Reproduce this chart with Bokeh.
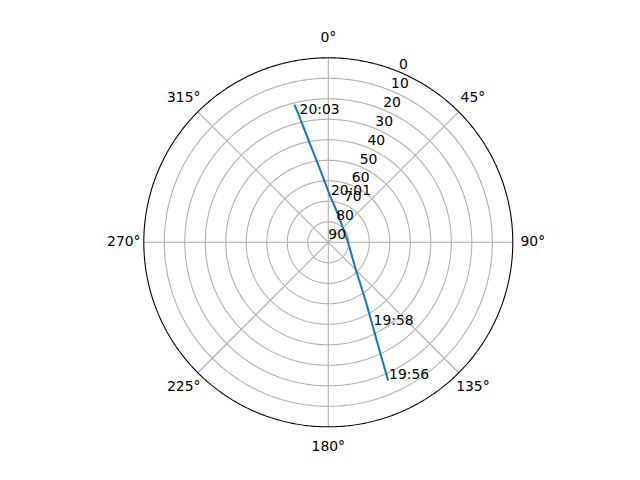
import numpy as np
from bokeh.plotting import figure
from bokeh.models import Range1d, ColumnDataSource
from bokeh.embed import file_html
from bokeh.resources import INLINE
from bokeh.core.properties import value

# ---- data (azimuth in degrees clockwise from north, elevation in degrees) ----
pass_az = [156.6, 154.9, 152.0, 147.4, 133.9, 89.7, 20.8, 2.1, 353.8, 349.3, 346.9, 346.2]
pass_el = [16.6, 30.1, 44.0, 56.3, 71.6, 80.4, 76.0, 67.2, 54.8, 40.4, 26.0, 20.9]

label_times = ["19:56", "19:58", "20:01", "20:03"]
label_az = [156.6, 152.0, 2.1, 346.9]
label_el = [16.6, 44.0, 67.2, 26.0]

elev_ticks = [0, 10, 20, 30, 40, 50, 60, 70, 80, 90]
elev_labels = ["0", "10", "20", "30", "40", "50", "60", "70", "80", "90"]
az_ticks = [0, 45, 90, 135, 180, 225, 270, 315]
az_labels = ["0°", "45°", "90°", "135°", "180°", "225°", "270°", "315°"]

FONT = value("DejaVu Sans")
FSIZE = "13.9px"


def to_xy(az, el):
    az = np.radians(np.asarray(az, dtype=float))
    r = 90.0 - np.asarray(el, dtype=float)
    return r * np.sin(az), r * np.cos(az)


W, H = 624, 464
cx, cy = 327.8, 241.8
k = 184.5 / 90.0

p = figure(width=W, height=H,
           x_range=Range1d(-cx / k, (W - cx) / k),
           y_range=Range1d(-(H - cy) / k, cy / k),
           output_backend="svg", toolbar_location=None, min_border=0,
           x_axis_location=None, y_axis_location=None)
p.grid.visible = False
p.outline_line_color = None
p.background_fill_color = "white"
p.border_fill_color = "white"

t = np.linspace(0, 2 * np.pi, 721)

# rings (grey) for elevations strictly between 0 and 90
ring_xs, ring_ys = [], []
for e in elev_ticks:
    r = 90 - e
    if 0 < r < 90:
        ring_xs.append(list(r * np.sin(t)))
        ring_ys.append(list(r * np.cos(t)))
p.multi_line(ring_xs, ring_ys, line_color="#b0b0b0", line_width=1.1)

# spokes
sx, sy = to_xy(az_ticks, [0] * len(az_ticks))
p.segment(x0=[0] * len(az_ticks), y0=[0] * len(az_ticks), x1=sx, y1=sy,
          line_color="#b0b0b0", line_width=1.1)

# outer frame circle
p.line(90 * np.sin(t), 90 * np.cos(t), line_color="black", line_width=1.1)

# the pass track
px, py = to_xy(pass_az, pass_el)
p.line(px, py, line_color="#1f77b4", line_width=2.08)

# time labels
lx, ly = to_xy(label_az, label_el)
p.text(x=lx, y=ly, text=label_times, text_align="left", text_baseline="alphabetic",
       text_font=FONT, text_font_size=FSIZE, text_color="black", x_offset=1, y_offset=-6)

# radial labels at 22.5 degrees
rx, ry = to_xy([22.5] * len(elev_ticks), elev_ticks)
p.text(x=rx, y=ry, text=elev_labels, text_align="left", text_baseline="bottom",
       text_font=FONT, text_font_size=FSIZE, text_color="black", y_offset=-3)

# azimuth labels
ar = 204.5 / k
ax_ = [ar * np.sin(np.radians(a)) for a in az_ticks]
ay_ = [ar * np.cos(np.radians(a)) for a in az_ticks]
p.text(x=ax_, y=ay_, text=az_labels, text_align="center", text_baseline="middle",
       text_font=FONT, text_font_size=FSIZE, text_color="black", y_offset=-1)

open("out.html", "w").write(file_html(p, INLINE))
